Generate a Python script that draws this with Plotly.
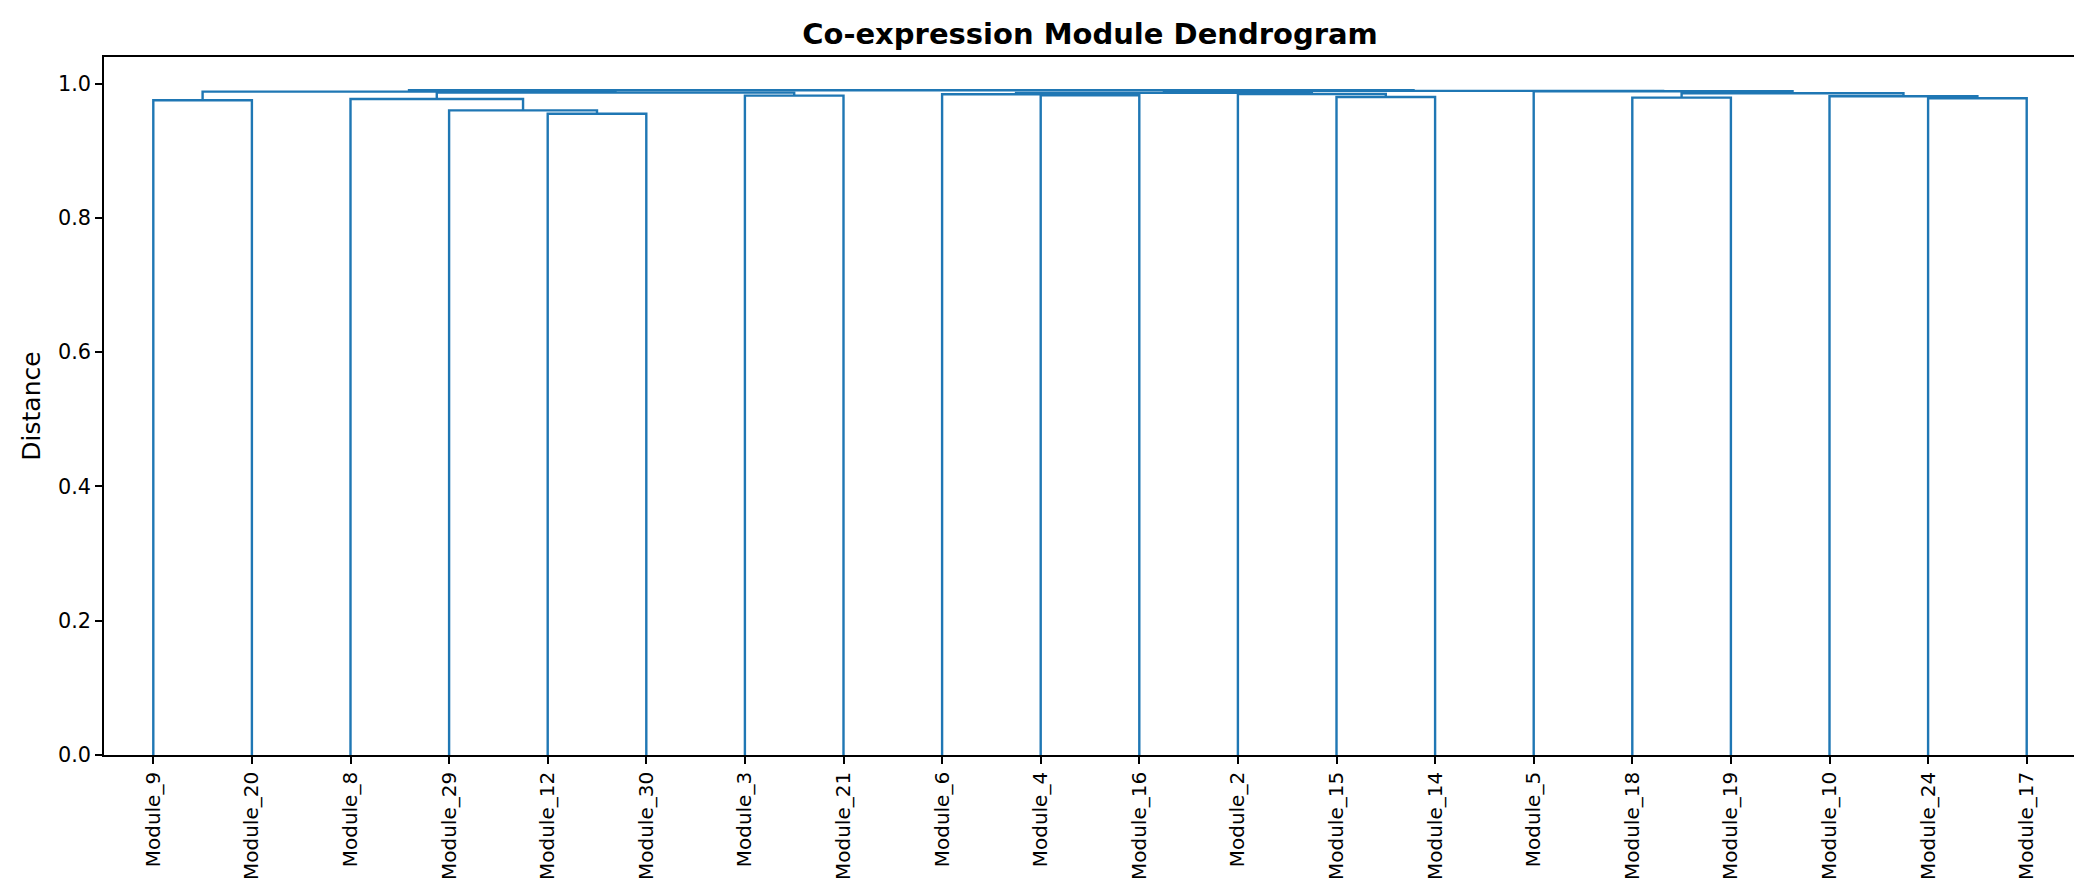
import plotly.graph_objects as go

# Leaf labels in dendrogram order
leaf_labels = ["Module_9", "Module_20", "Module_8", "Module_29", "Module_12", "Module_30",
               "Module_3", "Module_21", "Module_6", "Module_4", "Module_16", "Module_2",
               "Module_15", "Module_14", "Module_5", "Module_18", "Module_19", "Module_10",
               "Module_24", "Module_17"]

# Linkage: clusters 0..19 are leaves (in order above); merge k creates cluster 20+k
merge_left = [4, 3, 0, 2, 18, 15, 12, 17, 6, 9, 8, 11, 25, 30, 23, 22, 14, 33, 35]
merge_right = [5, 20, 1, 21, 19, 16, 13, 24, 7, 10, 29, 26, 27, 31, 28, 34, 32, 36, 37]
merge_height = [0.955, 0.960, 0.975, 0.977, 0.978, 0.979, 0.980, 0.981, 0.982, 0.9825,
                0.984, 0.9843, 0.9855, 0.986, 0.9865, 0.988, 0.9885, 0.989, 0.990]

y_ticks = [0.0, 0.2, 0.4, 0.6, 0.8, 1.0]

n = len(leaf_labels)
leaf_pos = [5 + 10 * i for i in range(n)]
pos = {i: leaf_pos[i] for i in range(n)}
hgt = {i: 0.0 for i in range(n)}

xs, ys = [], []
for k, (a, b, h) in enumerate(zip(merge_left, merge_right, merge_height)):
    xa, xb = pos[a], pos[b]
    xs += [xa, xa, xb, xb, None]
    ys += [hgt[a], h, h, hgt[b], None]
    pos[n + k] = (xa + xb) / 2
    hgt[n + k] = h

fig = go.Figure()
fig.add_trace(go.Scatter(x=xs, y=ys, mode="lines",
                         line=dict(color="#1f77b4", width=2.4),
                         hoverinfo="skip", showlegend=False))

ymax = max(merge_height) * 1.05
font_family = "DejaVu Sans"
fig.update_layout(
    width=2082, height=884,
    paper_bgcolor="white", plot_bgcolor="white",
    margin=dict(l=96, r=14, t=49, b=131),
    title=dict(text="<b>Co-expression Module Dendrogram</b>", x=0.5, xref="paper",
               y=1 - 26 / 884, yref="container", yanchor="middle", xanchor="center",
               font=dict(family=font_family, size=29, color="black")),
    font=dict(family=font_family, color="black"),
)
fig.update_xaxes(range=[0, 10 * n], tickvals=leaf_pos, ticktext=leaf_labels,
                 tickangle=-90, tickfont=dict(size=20, family=font_family),
                 ticks="outside", ticklen=7, tickwidth=1.7, tickcolor="black",
                 showline=True, linecolor="black", linewidth=1.7, mirror=True,
                 showgrid=False, zeroline=False)
fig.update_yaxes(range=[0, ymax], tickvals=y_ticks, ticktext=[f"{v:.1f}" for v in y_ticks],
                 tickfont=dict(size=20.8, family=font_family),
                 ticks="outside", ticklen=7, tickwidth=1.7, tickcolor="black",
                 showline=True, linecolor="black", linewidth=1.7, mirror=True,
                 showgrid=False, zeroline=False,
                 title=dict(text="Distance", font=dict(size=25, family=font_family), standoff=10))

fig.write_html("out.html")
